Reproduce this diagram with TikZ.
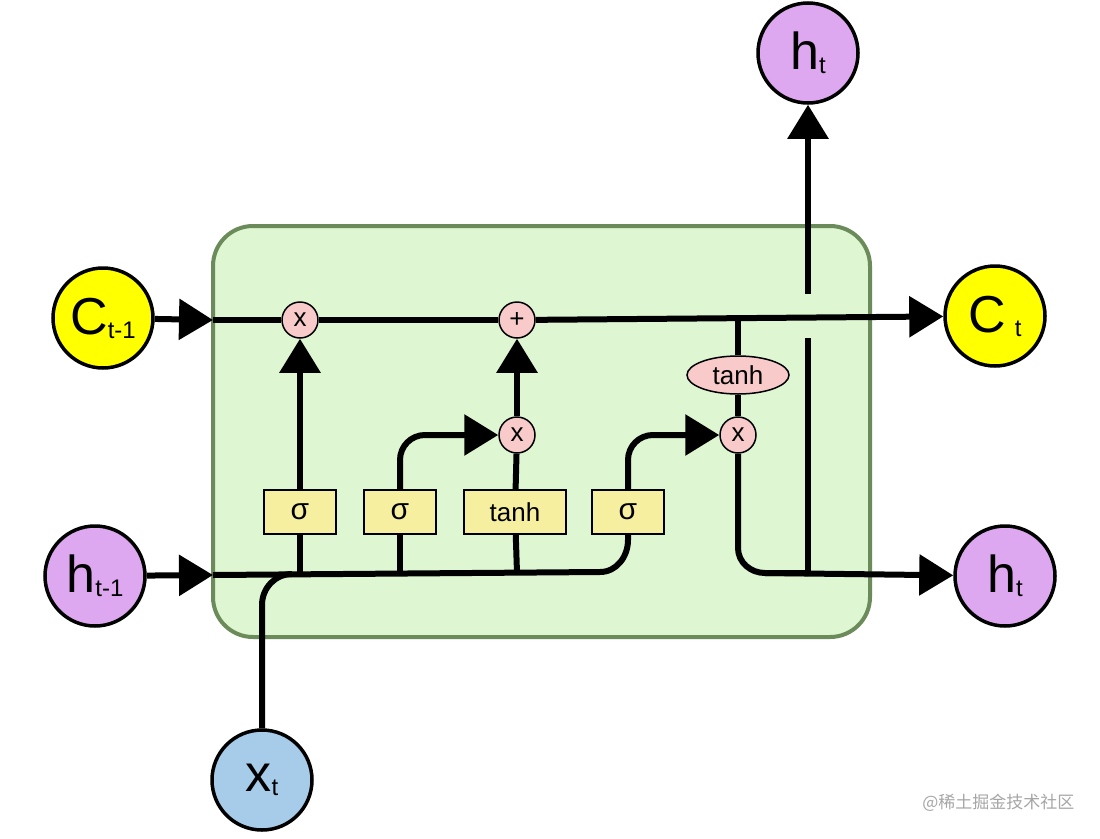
\documentclass[tikz,border=0pt]{standalone}
\usepackage{fontspec}
\setmainfont{Liberation Sans}
\newfontfamily\cjk{Noto Sans CJK SC}
\usetikzlibrary{arrows.meta,shapes.geometric}
\definecolor{cellgreen}{HTML}{DFF6D2}
\definecolor{cellborder}{HTML}{6B8C5A}
\definecolor{cyel}{HTML}{FFFF00}
\definecolor{hpur}{HTML}{DDA8F0}
\definecolor{xblue}{HTML}{A6CCEA}
\definecolor{oppink}{HTML}{F8CACA}
\definecolor{gateyel}{HTML}{F6EFA0}
\tikzset{
  wire/.style={line width=6pt},
  arr/.style={line width=6pt,-{Triangle[width=40pt,length=34pt]}},
  bigc/.style={circle,draw,line width=3.5pt,minimum size=100pt,inner sep=0pt,font=\fontsize{52}{52}\selectfont},
  op/.style={circle,draw,line width=1.5pt,fill=oppink,minimum size=36pt,inner sep=0pt,font=\fontsize{26}{26}\selectfont},
  gate/.style={draw,line width=1.5pt,fill=gateyel,minimum height=44pt,minimum width=72pt,inner sep=0pt,font=\fontsize{30}{30}\selectfont},
}
\newcommand{\sub}[1]{\raisebox{-4pt}{\fontsize{24}{24}\selectfont #1}}
\begin{document}
\begin{tikzpicture}[x=1pt,y=-1pt]
\useasboundingbox (0,0) rectangle (1100,838);
\fill[white] (0,0) rectangle (1100,838);
\draw[cellborder,fill=cellgreen,line width=4pt,rounded corners=40pt] (213,226) rectangle (870,637);
% nodes
\node[bigc,fill=cyel] (c0) at (103,318) {C\sub{t-1}};
\node[bigc,fill=cyel] (c1) at (995,316) {C\,\sub{t}};
\node[bigc,fill=hpur] (h0) at (95,576) {h\sub{t-1}};
\node[bigc,fill=hpur] (h1) at (1005,576) {h\sub{t}};
\node[bigc,fill=hpur] (htop) at (808,53) {h\sub{t}};
\node[bigc,fill=xblue] (xt) at (262,780) {x\sub{t}};
\node[op] (m1) at (300,320) {x};
\node[op] (pl) at (517,320) {+};
\node[op] (m2) at (517,435) {x};
\node[op] (m3) at (738,435) {x};
\node[gate] (g1) at (300,512) {σ};
\node[gate] (g2) at (400,512) {σ};
\node[gate,minimum width=102pt,font=\fontsize{26}{26}\selectfont] (g3) at (515,512) {tanh};
\node[gate] (g4) at (628,512) {σ};
\node[ellipse,draw,line width=1.5pt,fill=oppink,minimum width=102pt,minimum height=38pt,inner sep=0pt,font=\fontsize{26}{26}\selectfont] (th) at (738,375) {tanh};
\coordinate (cin) at (213,320);
\coordinate (hin) at (213,575);
% inputs
\draw[arr] (c0) -- (cin);
\draw[arr] (h0) -- (hin);
% cell line
\draw[wire] (cin) -- (m1) -- (pl);
\draw[arr] (pl) -- (c1);
% bottom bus
\draw[wire] (hin) -- (600,572) to[out=0,in=-90] (628,540) -- (g4);
\draw[wire] (xt) -- (262,605) to[out=90,in=180] (292,574);
\draw[wire] (g1) -- (300,573);
\draw[wire] (g2) -- (400,573);
\draw[wire] (g3) -- (517,573);
% gates up
\draw[arr] (g1) -- (m1);
\draw[arr] (g2.north) -- (400,460) to[out=90,in=180] (425,435) -- (m2);
\draw[wire] (g3) -- (m2);
\draw[arr] (m2) -- (pl);
\draw[arr] (g4.north) -- (628,460) to[out=90,in=180] (653,435) -- (m3);
% output
\draw[wire] (738,320) -- (th) -- (m3);
\draw[wire] (m3) -- (738,548) to[out=-90,in=180] (765,573) -- (808,573);
\draw[arr] (765,573) -- (h1);
\draw[wire] (808,573) -- (808,338);
\draw[arr] (808,294) -- (htop);
\node[text=gray!70,font=\cjk\fontsize{17}{17}\selectfont,anchor=east] (wm) at (1078,803) {@稀土掘金技术社区};
\end{tikzpicture}
\end{document}
